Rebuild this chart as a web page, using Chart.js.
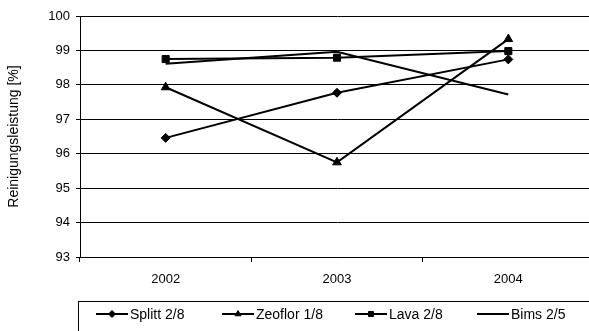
<!DOCTYPE html>
<html>
<head>
<meta charset="utf-8">
<script src="https://cdn.jsdelivr.net/npm/chart.js@4/dist/chart.umd.min.js"></script>
<style>
  html, body { margin: 0; padding: 0; background: #fff; overflow: hidden; }
  canvas { display: block; }
</style>
</head>
<body>
<canvas id="c" width="600" height="331"></canvas>
<script>
// Reinigungsleistung je Substrat und Jahr
const years = ['2002', '2003', '2004'];
const splitt = [96.46, 97.77, 98.74];
const zeoflor = [97.93, 95.75, 99.33];
const lava = [98.75, 98.79, 98.98];
const bims = [98.61, 98.96, 97.72];
const seriesNames = ['Splitt 2/8', 'Zeoflor 1/8', 'Lava 2/8', 'Bims 2/5'];
const yTicks = [93, 94, 95, 96, 97, 98, 99, 100];
const yTitle = 'Reinigungsleistung [%]';

const FONT = '"Liberation Sans", Arial, sans-serif';

// Boxed legend below the plot: line sample with the series marker, then the name
const legendBox = {
  id: 'legendBox',
  afterDraw(chart) {
    const ctx = chart.ctx;
    ctx.save();
    ctx.strokeStyle = '#000';
    ctx.lineWidth = 1;
    ctx.strokeRect(78.5, 301.5, 520, 40);
    const xs = [96, 222, 355, 477];
    const y = 314;
    chart.data.datasets.forEach((ds, i) => {
      const x0 = xs[i];
      ctx.strokeStyle = '#000';
      ctx.lineWidth = 2;
      ctx.beginPath();
      ctx.moveTo(x0, y);
      ctx.lineTo(x0 + 32, y);
      ctx.stroke();
      if (ds.pointStyle && ds.pointRadius > 0) {
        ctx.fillStyle = '#000';
        ctx.lineWidth = 1;
        Chart.helpers.drawPoint(ctx, { pointStyle: ds.pointStyle, radius: 3.5, borderWidth: 1, rotation: 0 }, x0 + 16, y);
      }
      ctx.fillStyle = '#000';
      ctx.font = '14px ' + FONT;
      ctx.textBaseline = 'middle';
      ctx.textAlign = 'left';
      ctx.fillText(ds.label, x0 + 34, y + 1);
    });
    ctx.restore();
  }
};

function series(label, data, style, radius) {
  return {
    label, data,
    borderColor: '#000',
    backgroundColor: '#000',
    borderWidth: 2,
    pointStyle: style,
    pointRadius: radius,
    pointHoverRadius: radius,
    pointBackgroundColor: '#000',
    pointBorderColor: '#000',
    pointBorderWidth: 1,
    tension: 0,
    fill: false
  };
}

new Chart(document.getElementById('c'), {
  type: 'line',
  data: {
    labels: years,
    datasets: [
      series(seriesNames[0], splitt, 'rectRot', 4.5),
      series(seriesNames[1], zeoflor, 'triangle', 5),
      series(seriesNames[2], lava, 'rect', 5),
      series(seriesNames[3], bims, 'circle', 0)
    ]
  },
  options: {
    responsive: false,
    animation: false,
    devicePixelRatio: 1,
    layout: { padding: { top: 16, right: 5, left: 0, bottom: 34 } },
    plugins: { legend: { display: false }, tooltip: { enabled: false } },
    scales: {
      x: {
        type: 'category',
        offset: true,
        grid: { offset: true, drawOnChartArea: false, drawTicks: true, tickLength: 5, color: '#000', lineWidth: 1 },
        border: { display: true, color: '#000', width: 1 },
        ticks: { color: '#000', font: { size: 13, family: FONT }, padding: 10, maxRotation: 0 },
        afterFit(s) { s.height = 40; }
      },
      y: {
        min: 93,
        max: 100,
        afterBuildTicks(s) { s.ticks = yTicks.map(v => ({ value: v })); },
        grid: { color: '#000', lineWidth: 1, tickLength: 4 },
        border: { display: true, color: '#000', width: 1 },
        ticks: { color: '#000', font: { size: 13, family: FONT }, padding: 6 },
        title: { display: true, text: yTitle, color: '#000', font: { size: 14, family: FONT }, padding: { top: 6, bottom: 0 } },
        afterFit(s) { s.width = 80; }
      }
    }
  },
  plugins: [legendBox]
});
</script>
</body>
</html>
